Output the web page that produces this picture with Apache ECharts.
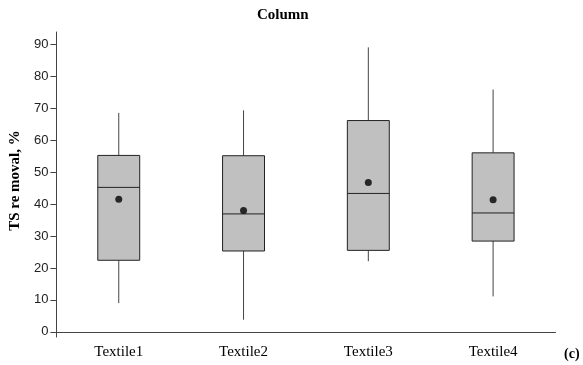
<!DOCTYPE html>
<html>
<head>
<meta charset="utf-8">
<script src="https://cdn.jsdelivr.net/npm/echarts@6/dist/echarts.min.js"></script>
<style>html,body{margin:0;padding:0;background:#fff}#c{width:583px;height:365px}</style>
</head>
<body>
<div id="c"></div>
<script>
const categories = ['Textile1', 'Textile2', 'Textile3', 'Textile4'];
const whiskerLow = [9.0, 3.8, 22.1, 11.1];
const q1 = [22.4, 25.3, 25.5, 28.4];
const median = [45.2, 36.9, 43.3, 37.2];
const q3 = [55.2, 55.1, 66.1, 56.0];
const whiskerHigh = [68.5, 69.3, 89.0, 75.8];
const means = [41.5, 38.0, 46.7, 41.3];
const yTicks = [0, 10, 20, 30, 40, 50, 60, 70, 80, 90];

const boxData = categories.map((c, i) => [i, whiskerLow[i], q1[i], median[i], q3[i], whiskerHigh[i]]);
const meanData = categories.map((c, i) => [i, means[i]]);

const chart = echarts.init(document.getElementById('c'));
chart.setOption({
  animation: false,
  title: {
    text: 'Column', left: 252, top: 3,
    textStyle: { fontFamily: 'Liberation Serif', fontWeight: 'bold', fontSize: 15, color: '#000' }
  },
  grid: { left: 55, right: 27.5, top: 32, bottom: 28 },
  xAxis: {
    type: 'category', data: categories,
    axisLine: { lineStyle: { color: '#444', width: 1 } },
    axisTick: { alignWithLabel: true, length: 4, lineStyle: { color: '#444' } },
    axisLabel: { fontFamily: 'Liberation Serif', fontSize: 15, color: '#000', margin: 8 }
  },
  yAxis: {
    type: 'value', min: -1.6, max: 93.8,
    name: 'TS re moval, %', nameLocation: 'middle', nameGap: 31, nameRotate: 90,
    nameTextStyle: { fontFamily: 'Liberation Serif', fontWeight: 'bold', fontSize: 15, color: '#000', padding: [0, 0, 0, 8] },
    axisLine: { show: true, lineStyle: { color: '#444', width: 1 } },
    axisTick: { show: true, length: 6, customValues: yTicks, lineStyle: { color: '#444' } },
    axisLabel: { customValues: yTicks, fontFamily: 'Liberation Sans', fontSize: 13, color: '#222', margin: 8 },
    splitLine: { show: false }
  },
  series: [
    {
      type: 'custom',
      data: boxData,
      renderItem: function (params, api) {
        const x = api.value(0);
        const pLow = api.coord([x, api.value(1)]);
        const pQ1 = api.coord([x, api.value(2)]);
        const pMed = api.coord([x, api.value(3)]);
        const pQ3 = api.coord([x, api.value(4)]);
        const pHigh = api.coord([x, api.value(5)]);
        const w = api.size([1, 0])[0] * 0.336;
        const cx = pMed[0];
        return {
          type: 'group',
          children: [
            { type: 'line', shape: { x1: cx, y1: pHigh[1], x2: cx, y2: pQ3[1] }, style: { stroke: '#444', lineWidth: 1 } },
            { type: 'line', shape: { x1: cx, y1: pQ1[1], x2: cx, y2: pLow[1] }, style: { stroke: '#444', lineWidth: 1 } },
            { type: 'rect', shape: { x: cx - w / 2, y: pQ3[1], width: w, height: pQ1[1] - pQ3[1] }, style: { fill: '#c0c0c0', stroke: '#222', lineWidth: 1 } },
            { type: 'line', shape: { x1: cx - w / 2, y1: pMed[1], x2: cx + w / 2, y2: pMed[1] }, style: { stroke: '#222', lineWidth: 1 } }
          ]
        };
      },
      z: 2
    },
    {
      type: 'scatter', data: meanData, symbol: 'circle', symbolSize: 7,
      itemStyle: { color: '#000' }, z: 3
    }
  ],
  graphic: [
    { type: 'text', left: 564, top: 347, style: { text: '(c)', fontFamily: 'Liberation Serif', fontWeight: 'bold', fontSize: 14, fill: '#000' } }
  ]
});
</script>
</body>
</html>
